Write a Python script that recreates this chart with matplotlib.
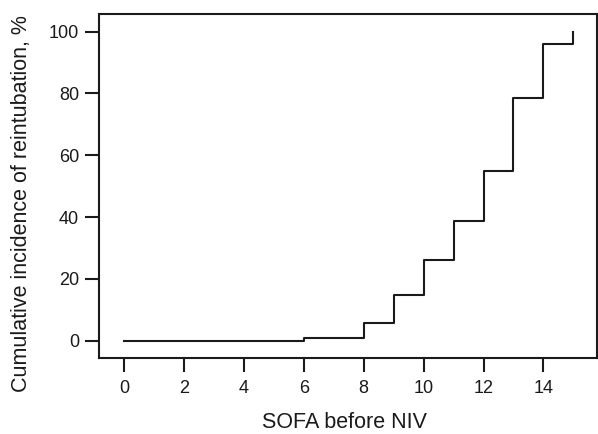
import matplotlib
matplotlib.use("Agg")
import matplotlib.pyplot as plt

# SOFA score before NIV and cumulative incidence of reintubation (%)
sofa = [0, 6, 8, 9, 10, 11, 12, 13, 14, 15]
incidence = [0, 0.8, 5.6, 14.8, 26.1, 38.7, 55.0, 78.4, 96.0, 100]
xticks = [0, 2, 4, 6, 8, 10, 12, 14]
yticks = [0, 20, 40, 60, 80, 100]

plt.rcParams["font.family"] = ["Liberation Sans", "DejaVu Sans"]

fig = plt.figure(figsize=(5.98, 4.34), dpi=100)
ax = fig.add_axes([0.1656, 0.175, 0.8324, 0.793])

ax.step(sofa, incidence, where="post", color="#1a1a1a", lw=1.5)

ax.set_xlim(-0.83, 15.78)
ax.set_ylim(-5.6, 105.7)
ax.set_xticks(xticks)
ax.set_yticks(yticks)
ax.tick_params(direction="out", length=10, width=1.5, labelsize=13,
               colors="#1a1a1a")
ax.tick_params(axis="x", pad=6)
ax.tick_params(axis="y", pad=4.3)
for s in ax.spines.values():
    s.set_linewidth(1.5)
    s.set_color("#1a1a1a")

ax.set_xlabel("SOFA before NIV", fontsize=15.5, color="#1a1a1a")
ax.set_ylabel("Cumulative incidence of reintubation, %", fontsize=15.5,
              color="#1a1a1a")
ax.xaxis.set_label_coords(0.493, -0.156)
ax.yaxis.set_label_coords(-0.1345, 0.449)

fig.savefig("out.png", dpi=100)
